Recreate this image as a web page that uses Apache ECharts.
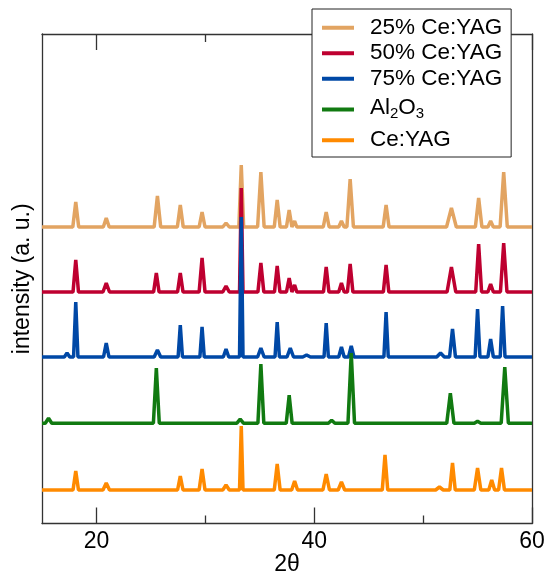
<!DOCTYPE html>
<html>
<head>
<meta charset="utf-8">
<script src="https://cdn.jsdelivr.net/npm/echarts@6/dist/echarts.min.js"></script>
<style>
html,body{margin:0;padding:0;background:#fff;}
#chart{width:547px;height:579px;}
</style>
</head>
<body>
<div id="chart"></div>
<script>
// 2θ axis ticks
const xMajorTicks = [20, 40, 60];
const xMinorTicks = [30, 50];

// Series names (legend order)
const seriesNames = ['25% Ce:YAG', '50% Ce:YAG', '75% Ce:YAG', 'Al2O3', 'Ce:YAG'];

// 25% Ce:YAG : baseline (offset) and peaks (2θ, height, half-width)
const base25 = 296.5;
const pos25 = [18.1, 20.9, 25.6, 27.7, 29.7, 31.9, 33.3, 35.1, 36.6, 37.7, 38.2, 41.1, 42.5, 43.3, 46.6, 52.6, 55.1, 56.2, 57.4];
const hgt25 = [25, 9, 31, 22, 15, 4, 62, 55, 27, 17, 6, 15, 6, 48, 22, 19, 29, 6, 55];
const wid25 = [0.27, 0.27, 0.3, 0.27, 0.27, 0.3, 0.22, 0.3, 0.27, 0.25, 0.2, 0.27, 0.25, 0.3, 0.27, 0.45, 0.3, 0.25, 0.33];

// 50% Ce:YAG
const base50 = 231.5;
const pos50 = [18.1, 20.9, 25.5, 27.7, 29.7, 31.9, 33.3, 35.1, 36.6, 37.7, 38.2, 41.1, 42.5, 43.3, 46.6, 52.6, 55.1, 56.2, 57.4];
const hgt50 = [32, 9, 19, 19, 34, 6, 104, 29, 26, 14, 7, 25, 9, 28, 27, 25, 48, 8, 49];
const wid50 = [0.25, 0.3, 0.25, 0.25, 0.27, 0.3, 0.16, 0.27, 0.25, 0.25, 0.2, 0.25, 0.25, 0.25, 0.25, 0.4, 0.27, 0.25, 0.3];

// 75% Ce:YAG
const base75 = 166.5;
const pos75 = [17.3, 18.1, 20.9, 25.6, 27.7, 29.7, 31.9, 33.3, 35.1, 36.6, 37.8, 39.3, 41.1, 42.5, 43.4, 46.6, 51.6, 52.7, 55.0, 56.2, 57.3];
const hgt75 = [4, 55, 14, 7, 32, 30, 8, 140, 9, 35, 9, 2, 34, 10, 11, 45, 4, 28, 48, 18, 51];
const wid75 = [0.25, 0.2, 0.25, 0.3, 0.2, 0.2, 0.25, 0.16, 0.3, 0.2, 0.3, 0.35, 0.2, 0.25, 0.25, 0.2, 0.35, 0.27, 0.22, 0.25, 0.22];

// Al2O3
const baseAl = 100.3;
const posAl = [15.6, 25.5, 33.2, 35.1, 37.7, 41.6, 43.4, 52.5, 55.0, 57.5];
const hgtAl = [5, 55, 4, 59, 28, 3, 70, 30, 2, 56];
const widAl = [0.3, 0.27, 0.3, 0.27, 0.27, 0.3, 0.3, 0.33, 0.3, 0.33];

// Ce:YAG
const baseCe = 33.5;
const posCe = [18.1, 20.9, 27.7, 29.7, 31.9, 33.3, 36.6, 38.2, 41.1, 42.5, 46.5, 51.5, 52.7, 55.0, 56.3, 57.2];
const hgtCe = [19, 7, 14, 21, 5, 64, 26, 9, 16, 8, 35, 3, 27, 22, 10, 22];
const widCe = [0.25, 0.3, 0.25, 0.27, 0.3, 0.16, 0.27, 0.27, 0.3, 0.3, 0.25, 0.35, 0.25, 0.3, 0.27, 0.27];

const X_MIN = 15, X_MAX = 60;

function buildPattern(base, pos, hgt, wid) {
  const pts = [[X_MIN, base]];
  pos.forEach((p, i) => {
    pts.push([p - wid[i], base], [p, base + hgt[i]], [p + wid[i], base]);
  });
  pts.push([X_MAX, base]);
  return pts;
}

const patterns = [
  buildPattern(base25, pos25, hgt25, wid25),
  buildPattern(base50, pos50, hgt50, wid50),
  buildPattern(base75, pos75, hgt75, wid75),
  buildPattern(baseAl, posAl, hgtAl, widAl),
  buildPattern(baseCe, posCe, hgtCe, widCe)
];

const colors = ['#E2A462', '#BE0030', '#0048A6', '#117A11', '#FF8A00'];
const FONT = 'Liberation Sans';
const axisColor = '#333';

const chart = echarts.init(document.getElementById('chart'), null, {renderer: 'canvas'});

const baseX = {
  type: 'value', min: X_MIN, max: X_MAX,
  splitLine: {show: false},
  axisLine: {show: false, lineStyle: {color: axisColor, width: 1.3}},
  axisTick: {show: false},
  axisLabel: {show: false}
};

const option = {
  animation: false,
  backgroundColor: '#fff',
  grid: {left: 42, right: 15, top: 34, bottom: 55.5, containLabel: false, outerBoundsMode: 'none'},
  legend: {
    orient: 'vertical',
    left: 312, top: 9,
    align: 'left',
    padding: [6, 9, 4, 10],
    itemGap: 0,
    itemWidth: 32, itemHeight: 4,
    icon: 'rect',
    borderColor: '#222', borderWidth: 1,
    backgroundColor: '#fff',
    data: seriesNames,
    formatter: function (name) {
      if (name === 'Al2O3') return '{n|Al}{sub|2}{n|O}{sub|3}';
      return name;
    },
    textStyle: {
      fontFamily: FONT, fontSize: 22.5, color: '#000', lineHeight: 25.5,
      padding: [0, 0, 0, 11],
      rich: {
        n: {fontFamily: FONT, fontSize: 22.5, color: '#000', lineHeight: 26, verticalAlign: 'top'},
        sub: {fontFamily: FONT, fontSize: 15, color: '#000', lineHeight: 15, padding: [15, 0, 6, 0]}
      }
    }
  },
  xAxis: [
    Object.assign({}, baseX, {
      position: 'bottom',
      axisLine: {show: true, lineStyle: {color: axisColor, width: 1.3}},
      axisTick: {show: true, inside: true, length: 16, customValues: xMajorTicks, lineStyle: {color: axisColor, width: 1.3}},
      axisLabel: {show: true, customValues: xMajorTicks, fontFamily: FONT, fontSize: 23, color: '#000', margin: 7},
      name: '2θ', nameLocation: 'middle', nameGap: 30, nameMoveOverlap: false,
      nameTextStyle: {fontFamily: FONT, fontSize: 23, color: '#000'}
    }),
    Object.assign({}, baseX, {
      position: 'bottom',
      axisTick: {show: true, inside: true, length: 8, customValues: xMinorTicks, lineStyle: {color: axisColor, width: 1.3}}
    }),
    Object.assign({}, baseX, {
      position: 'top',
      axisLine: {show: true, lineStyle: {color: axisColor, width: 1.3}},
      axisTick: {show: true, inside: true, length: 16, customValues: xMajorTicks, lineStyle: {color: axisColor, width: 1.3}}
    }),
    Object.assign({}, baseX, {
      position: 'top',
      axisTick: {show: true, inside: true, length: 8, customValues: xMinorTicks, lineStyle: {color: axisColor, width: 1.3}}
    })
  ],
  yAxis: [
    {
      type: 'value', min: 0, max: 489.5, position: 'left',
      splitLine: {show: false},
      axisLine: {show: true, lineStyle: {color: axisColor, width: 1.3}},
      axisTick: {show: false}, axisLabel: {show: false},
      name: 'intensity (a. u.)', nameLocation: 'middle', nameGap: 8, nameRotate: 90, nameMoveOverlap: false,
      nameTextStyle: {fontFamily: FONT, fontSize: 23, color: '#000'}
    },
    {
      type: 'value', min: 0, max: 489.5, position: 'right',
      splitLine: {show: false},
      axisLine: {show: true, lineStyle: {color: axisColor, width: 1.3}},
      axisTick: {show: false}, axisLabel: {show: false}
    }
  ],
  series: seriesNames.map((name, i) => ({
    name: name,
    type: 'line',
    xAxisIndex: 0, yAxisIndex: 0,
    data: patterns[i],
    symbol: 'none',
    showSymbol: false,
    color: colors[i],
    lineStyle: {color: colors[i], width: 3.5},
    emphasis: {disabled: true},
    z: 2
  }))
};

chart.setOption(option);
</script>
</body>
</html>
